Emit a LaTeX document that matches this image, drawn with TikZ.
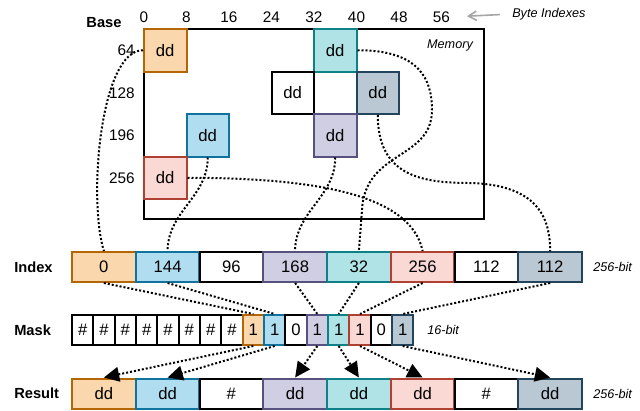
\documentclass[tikz,border=0pt]{standalone}
\usepackage{fontspec}
\setmainfont{Liberation Sans}
\usetikzlibrary{arrows.meta}
\definecolor{orF}{HTML}{FAD7AC}\definecolor{orD}{HTML}{B46504}
\definecolor{blF}{HTML}{B1DDF0}\definecolor{blD}{HTML}{10739E}
\definecolor{puF}{HTML}{D0CEE2}\definecolor{puD}{HTML}{56517E}
\definecolor{teF}{HTML}{B0E3E6}\definecolor{teD}{HTML}{0E8088}
\definecolor{reF}{HTML}{FAD9D5}\definecolor{reD}{HTML}{AE4132}
\definecolor{grF}{HTML}{BAC8D3}\definecolor{grD}{HTML}{23445D}
\begin{document}
\begin{tikzpicture}[x=0.75pt,y=-0.75pt,
	box/.style={draw,line width=1.5pt,inner sep=0pt,font=\fontsize{12.5}{14}\selectfont},
	mcell/.style={box,minimum width=31.875pt,minimum height=31.875pt},
	vcell/.style={box,minimum width=47.8pt,minimum height=22.5pt},
	bcell/.style={box,minimum width=16pt,minimum height=22.5pt},
	cOr/.style={fill=orF,draw=orD}, cBl/.style={fill=blF,draw=blD}, cPu/.style={fill=puF,draw=puD},
	cTe/.style={fill=teF,draw=teD}, cRe/.style={fill=reF,draw=reD}, cGr/.style={fill=grF,draw=grD},
	cWh/.style={fill=white,draw=black},
	rowlbl/.style={font=\bfseries\fontsize{11}{13}\selectfont,inner sep=0pt},
	num/.style={font=\fontsize{11.5}{13}\selectfont,inner sep=0pt},
	note/.style={font=\itshape\fontsize{9.5}{11}\selectfont,inner sep=0pt},
	link/.style={line width=1.5pt,dash pattern=on 1.5pt off 1.5pt},
	fetch/.style={link,-{Triangle[length=11.5pt,width=11pt]}},
	ptr/.style={draw=gray!70,line width=1.2pt,-{Straight Barb[length=6pt,width=7pt]}}]
	%\draw[step=10,gray!15] (0,0) grid (640,411); %helper grid
	\useasboundingbox (0,0) rectangle (640,411);
	
	% memory
	\node[draw,line width=1.5pt,minimum width=255pt,minimum height=142.5pt] (mem) at (314,124) {};
	\node[note] (memlbl) at (450,45) {Memory};
	\node[rowlbl] (base) at (104,23) {Base};
	\foreach \b [count=\i from 0] in {0,8,16,24,32,40,48,56}
		\node[num] (b\b) at ({144+42.5*\i},17) {\b};
	\node[note,anchor=west] (bidx) at (512,14) {Byte Indexes};
	\draw[ptr,shorten <=9pt,shorten >=12.5pt] (bidx.west) -- (b56.east);
	\foreach \r/\y in {64/50.25,128/92.75,196/135.25,256/177.75}
		\node[num,anchor=east] (r\r) at (135,\y) {\r};
	
	\node[mcell,cOr] (mOr) at (165.25,50.25) {dd};
	\node[mcell,cTe] (mTe) at (335.25,50.25) {dd};
	\node[mcell,cWh] (mWh) at (292.75,92.75) {dd};
	\node[mcell,cGr] (mGr) at (377.75,92.75) {dd};
	\node[mcell,cBl] (mBl) at (207.75,135.25) {dd};
	\node[mcell,cPu] (mPu) at (335.25,135.25) {dd};
	\node[mcell,cRe] (mRe) at (165.25,177.75) {dd};
	
	% index, mask, result
	\node[rowlbl,anchor=west] (idxlbl) at (14,267) {Index};
	\node[rowlbl,anchor=west] (msklbl) at (14,330) {Mask};
	\node[rowlbl,anchor=west] (reslbl) at (14,393.5) {Result};
	\node[note,anchor=west] (idxw) at (593,267) {256-bit};
	\node[note,anchor=west] (mskw) at (427,330) {16-bit};
	\node[note,anchor=west] (resw) at (593,393.5) {256-bit};
	\foreach \v/\c [count=\i from 0] in {0/cOr,144/cBl,96/cWh,168/cPu,32/cTe,256/cRe,112/cWh,112/cGr}
		\node[vcell,\c] (i\i) at ({103.875+63.75*\i},267) {\v};
	\foreach \v/\c [count=\i from 0] in {\#/cWh,\#/cWh,\#/cWh,\#/cWh,\#/cWh,\#/cWh,\#/cWh,\#/cWh,1/cOr,1/cBl,0/cWh,1/cPu,1/cTe,1/cRe,0/cWh,1/cGr}
		\node[bcell,\c] (k\i) at ({82.67+21.333*\i},330) {\v};
	\foreach \v/\c [count=\i from 0] in {dd/cOr,dd/cBl,\#/cWh,dd/cPu,dd/cTe,dd/cRe,\#/cWh,dd/cGr}
		\node[vcell,\c] (o\i) at ({103.875+63.75*\i},393.5) {\v};
	
	% gather
	\draw[link] (mOr.west) .. controls (100,50) and (88,200) .. (i0.north);
	\draw[link] (mBl.south) to[out=-90,in=90] (i1.north);
	\draw[link] (mPu.south) to[out=-90,in=90] (i3.north);
	\draw[link] (mTe.east) .. controls (420,50) and (432,80) .. (432,110) .. controls (432,160) and (365,150) .. (362,210) -- (i4.north);
	\draw[link] (mRe.east) .. controls (300,178) and (410,190) .. (i5.north);
	\draw[link] (mGr.south) .. controls (378,175) and (420,183) .. (470,183) .. controls (540,185) and (550,220) .. (i7.north);
	
	% index to mask, mask to result
	\foreach \a/\k in {0/8,1/9,3/11,4/12,5/13,7/15}{
		\draw[link] (i\a.south) -- (k\k.north);
		\draw[fetch] (k\k.south) -- (o\a.north);
	}
\end{tikzpicture}
\end{document}
